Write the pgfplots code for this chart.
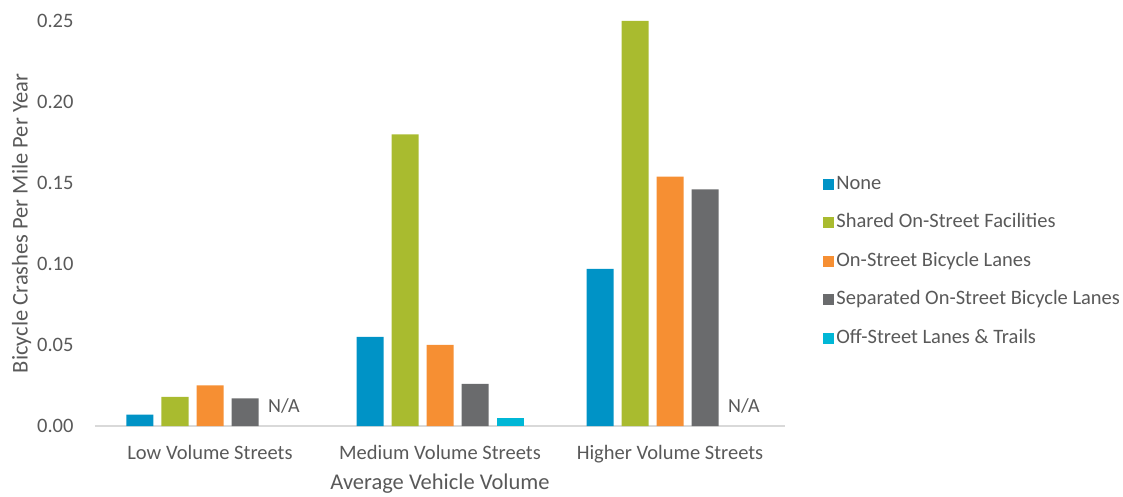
\documentclass[border=0pt]{standalone}
\usepackage{fontspec}
\setmainfont{Carlito}
\usepackage{pgfplots}
\pgfplotsset{compat=1.18}

\definecolor{cNone}{HTML}{0093C6}
\definecolor{cShared}{HTML}{A9BB2F}
\definecolor{cLanes}{HTML}{F68F33}
\definecolor{cSep}{HTML}{6A6B6D}
\definecolor{cOff}{HTML}{00B7D6}
\definecolor{txt}{HTML}{595959}
\definecolor{axl}{HTML}{D9D9D9}

\begin{document}
\begin{tikzpicture}
\begin{axis}[
  scale only axis,
  width=690pt, height=405pt,
  ybar, bar width=27pt,
  xmin=-0.5, xmax=2.5,
  ymin=0, ymax=0.25,
  xtick={0,1,2},
  xticklabels={Low Volume Streets, Medium Volume Streets, Higher Volume Streets},
  ytick={0,0.05,0.10,0.15,0.20,0.25},
  yticklabel style={/pgf/number format/fixed, /pgf/number format/fixed zerofill,
    /pgf/number format/precision=2, /pgf/number format/assume math mode=true, xshift=-18pt},
  major tick length=0pt,
  axis y line*=left, y axis line style={draw=none},
  axis x line*=bottom, x axis line style={draw=axl, line width=1.5pt},
  tick label style={font=\fontsize{20.5}{24}\selectfont, text=txt},
  xticklabel style={yshift=-16pt},
  xlabel={Average Vehicle Volume},
  ylabel={Bicycle Crashes Per Mile Per Year},
  label style={font=\fontsize{22.5}{27}\selectfont, text=txt},
  xlabel style={yshift=-4pt},
  ylabel style={yshift=-1pt},
  legend style={at={(1.051,0.407)}, anchor=west, draw=none, fill=none,
    font=\fontsize{20.5}{24}\selectfont, text=txt, row sep=16.5pt,
    nodes={text height=14pt, text depth=4pt},
    legend cell align=left},
  legend image code/.code={\fill[#1] (0pt,-5.5pt) rectangle (11pt,5.5pt);},
  clip=false,
]
\addplot[fill=cNone, draw=none, bar shift=-70pt] coordinates {(0,0.007) (1,0.055) (2,0.097)};
\addplot[fill=cShared, draw=none, bar shift=-35pt] coordinates {(0,0.018) (1,0.180) (2,0.250)};
\addplot[fill=cLanes, draw=none, bar shift=0pt] coordinates {(0,0.025) (1,0.050) (2,0.154)};
\addplot[fill=cSep, draw=none, bar shift=35pt] coordinates {(0,0.017) (1,0.026) (2,0.146)};
\addplot[fill=cOff, draw=none, bar shift=70pt] coordinates {(1,0.005)};
\legend{None, Shared On-Street Facilities, On-Street Bicycle Lanes, Separated On-Street Bicycle Lanes, Off-Street Lanes \& Trails}
\node[text=txt, font=\fontsize{20}{24}\selectfont, anchor=south, xshift=74pt, yshift=9pt] at (axis cs:0,0) {N/A};
\node[text=txt, font=\fontsize{20}{24}\selectfont, anchor=south, xshift=74pt, yshift=9pt] at (axis cs:2,0) {N/A};
\end{axis}
\pgfresetboundingbox
\path[use as bounding box] ([xshift=-95pt,yshift=21pt]current axis.north west)
  rectangle ([xshift=338pt,yshift=-71pt]current axis.south east);
\end{tikzpicture}
\end{document}
